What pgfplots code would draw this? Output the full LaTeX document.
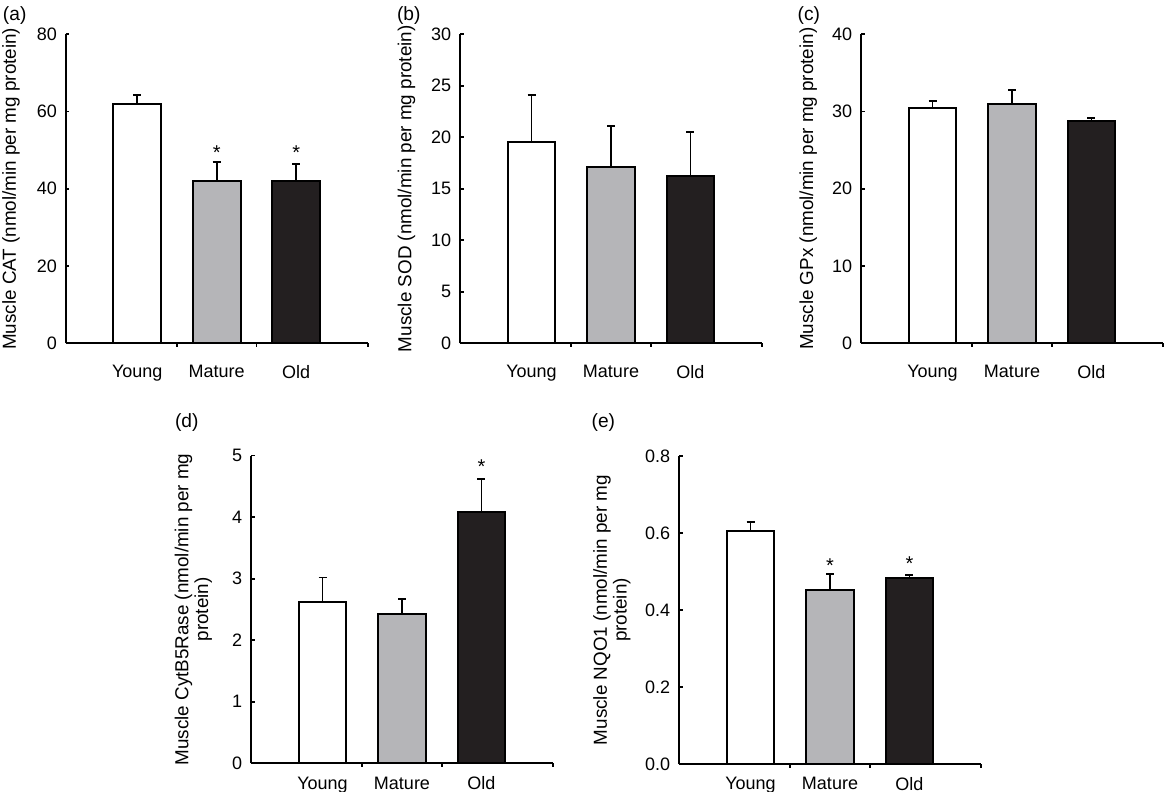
\documentclass[border=0pt]{standalone}
\usepackage{pgfplots}
\pgfplotsset{compat=1.18}
\usepackage{fontspec}
\setmainfont{Liberation Sans}
\definecolor{grayfill}{RGB}{181,181,184}
\definecolor{blackfill}{RGB}{35,31,32}
\newcommand{\tickfont}{\fontsize{10.8}{12}\selectfont}
\pgfplotsset{
  panel/.style={
    scale only axis, width=181.2pt, height=185.4pt,
    anchor=south west,
    axis lines*=left,
    axis line style={line width=1.15pt, black},
    xmin=0.1, xmax=3.9, ymin=0,
    xtick={1,2,3}, xticklabels={Young,Mature,Old},
    major x tick style={draw=none},
    minor xtick={1.5,2.5,3.9},
    tick align=inside,
    tick style={line width=1pt, black},
    major tick length=2.2pt, minor tick length=2.2pt,
    ybar, bar width=0.6, bar shift=0pt,
    error bars/y dir=plus, error bars/y explicit,
    error bars/error bar style={line width=1.15pt, black},
    error bars/error mark options={rotate=90, mark size=2.4pt, line width=1.15pt, black},
    yticklabel style={font=\tickfont, xshift=-1.8pt},
    /pgf/number format/assume math mode=true,
    clip=false,
  },
  ylab/.style={every axis y label/.style={at={(axis description cs:#1,0.5)}, rotate=90, anchor=center, align=center, font=\fontsize{11.3}{11.8}\selectfont}},
  top/.style={xticklabel style={font=\tickfont, yshift=-7.4pt}},
  bot/.style={xticklabel style={font=\tickfont, yshift=-2.4pt}},
  bY/.style={fill=white, draw=black, line width=1.15pt},
  bM/.style={fill=grayfill, draw=black, line width=1.15pt},
  bO/.style={fill=blackfill, draw=black, line width=1.15pt},
}
\tikzset{star/.style={anchor=base, yshift=-6.9pt, inner sep=0pt, font=\fontsize{12}{12}\selectfont}}
\begin{document}
\begin{tikzpicture}
\useasboundingbox (0,0) rectangle (699pt,-475.2pt);
\tikzset{plab/.style={anchor=west, inner sep=0pt, font=\fontsize{11.5}{13}\selectfont}}
\node[plab] at (1.6pt,-9.6pt) {(a)};
\node[plab] at (238pt,-9.6pt) {(b)};
\node[plab] at (478.4pt,-9.3pt) {(c)};
\node[plab] at (104.8pt,-253.8pt) {(d)};
\node[plab] at (354.8pt,-253.8pt) {(e)};

% (a)
\begin{axis}[panel, top, ylab=-0.181, at={(39.42pt,-205.98pt)}, ymax=80, ytick={0,20,40,60,80},
  ylabel={Muscle CAT (nmol/min per mg protein)}]
\addplot[bY] coordinates {(1,61.87) +- (0,2.5)};
\addplot[bM] coordinates {(2,42.0) +- (0,4.85)};
\addplot[bO] coordinates {(3,42.0) +- (0,4.4)};
\node[star] at (axis cs:2,50.5) {*};
\node[star] at (axis cs:3,50.5) {*};
\end{axis}

% (b)
\begin{axis}[panel, top, ylab=-0.177, at={(276pt,-205.98pt)}, ymax=30, ytick={0,5,...,30},
  ylabel={Muscle SOD (nmol/min per mg protein)}]
\addplot[bY] coordinates {(1,19.54) +- (0,4.56)};
\addplot[bM] coordinates {(2,17.15) +- (0,3.95)};
\addplot[bO] coordinates {(3,16.27) +- (0,4.28)};
\end{axis}

% (c)
\begin{axis}[panel, top, ylab=-0.175, at={(516.6pt,-205.98pt)}, ymax=40, ytick={0,10,...,40},
  ylabel={Muscle GPx (nmol/min per mg protein)}]
\addplot[bY] coordinates {(1,30.5) +- (0,0.87)};
\addplot[bM] coordinates {(2,30.94) +- (0,1.86)};
\addplot[bO] coordinates {(3,28.74) +- (0,0.39)};
\end{axis}

% (d)
\begin{axis}[panel, bot, ylab=-0.191, at={(150.6pt,-457.98pt)}, height=184.6pt, ymax=5, ytick={0,1,...,5},
  ylabel={Muscle CytB5Rase (nmol/min per mg\\protein)}]
\addplot[bY] coordinates {(1,2.62) +- (0,0.40)};
\addplot[bM] coordinates {(2,2.42) +- (0,0.25)};
\addplot[bO] coordinates {(3,4.09) +- (0,0.53)};
\node[star] at (axis cs:3,4.90) {*};
\end{axis}

% (e)
\begin{axis}[panel, bot, ylab=-0.222, at={(407.4pt,-458.4pt)}, height=184.8pt, ymax=0.8, ytick={0,0.2,0.4,0.6,0.8},
  yticklabel style={/pgf/number format/.cd, fixed, fixed zerofill, precision=1},
  ylabel={Muscle NQO1 (nmol/min per mg\\protein)}]
\addplot[bY] coordinates {(1,0.605) +- (0,0.023)};
\addplot[bM] coordinates {(2,0.453) +- (0,0.040)};
\addplot[bO] coordinates {(3,0.483) +- (0,0.009)};
\node[star] at (axis cs:2,0.527) {*};
\node[star] at (axis cs:3,0.532) {*};
\end{axis}
\end{tikzpicture}
\end{document}
